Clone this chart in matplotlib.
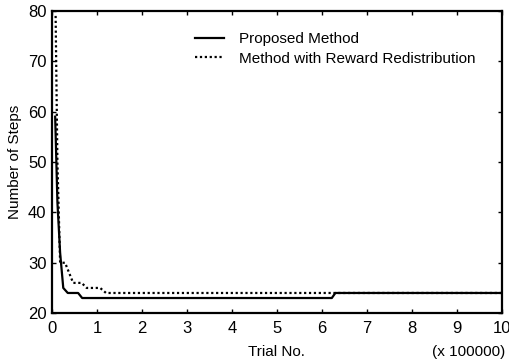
import matplotlib
matplotlib.use("Agg")
import matplotlib.pyplot as plt

plt.rcParams['font.family'] = ['Liberation Sans', 'DejaVu Sans']

prop_x = [0.07, 0.12, 0.18, 0.25, 0.35, 0.58, 0.67, 6.22, 6.3, 10]
prop_y = [59, 42, 32, 25, 24, 24, 23, 23, 24, 24]
redis_x = [0.08, 0.12, 0.18, 0.29, 0.47, 0.66, 0.77, 1.07, 1.2, 10]
redis_y = [79, 50, 30, 30, 26, 26, 25, 25, 24, 24]
xticks = list(range(0, 11))
yticks = [20, 30, 40, 50, 60, 70, 80]

fig = plt.figure(figsize=(5.1, 3.62), dpi=100)
ax = fig.add_axes([0.102, 0.135, 0.882, 0.835])
ax.plot(prop_x, prop_y, color='black', lw=1.6, label='Proposed Method')
ax.plot(redis_x, redis_y, color='black', lw=1.6, linestyle=(0, (1, 1.2)),
        label='Method with Reward Redistribution')
ax.set_xlim(0, 10)
ax.set_ylim(20, 80)
ax.set_xticks(xticks)
ax.set_yticks(yticks)
ax.tick_params(direction='in', top=True, right=True, length=3, width=1,
               labelsize=12, pad=4)
ax.tick_params(axis='x', pad=6)
for s in ax.spines.values():
    s.set_linewidth(1.6)
ax.set_ylabel('Number of Steps', fontsize=11, labelpad=4)
ax.set_xlabel('Trial No.', fontsize=11, labelpad=6)
fig.text(0.99, 0.008, '(x 100000)', ha='right', va='bottom', fontsize=11)
ax.legend(loc='upper left', bbox_to_anchor=(0.288, 0.975), frameon=False,
          fontsize=11, handlelength=1.9, handletextpad=0.95, labelspacing=0.35)
fig.savefig('out.png', dpi=100)
